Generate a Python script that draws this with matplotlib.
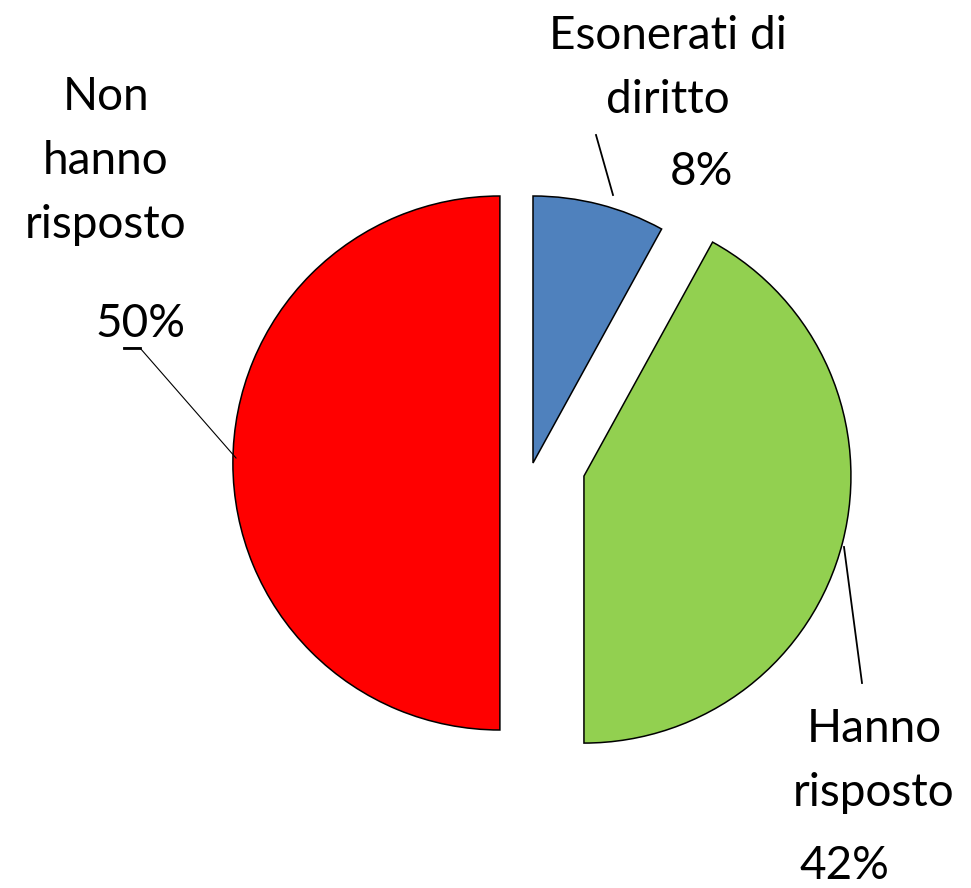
import matplotlib

matplotlib.use("Agg")
import matplotlib.pyplot as plt

W, H = 971, 888

# slices, clockwise from 12 o'clock
labels = [["Esonerati di", "diritto"], ["Hanno", "risposto"], ["Non", "hanno", "risposto"]]
shares = [8, 42, 50]
colors = ["#4F81BD", "#92D050", "#FF0000"]
explode = [0.0, 0.197, 0.124]  # fraction of radius

plt.rcParams["font.family"] = "Lato"

fig = plt.figure(figsize=(W / 100, H / 100), dpi=100)
ax = fig.add_axes([0, 0, 1, 1])

R = 267
# pie() offsets exploded wedges in data units, so scale by the radius
ax.pie(shares, explode=[e * R for e in explode], colors=colors, startangle=90,
       counterclock=False, center=(533, H - 463), radius=R,
       wedgeprops=dict(edgecolor="black", linewidth=1.1))
ax.set_xlim(0, W)
ax.set_ylim(0, H)
ax.set_aspect("equal")
ax.axis("off")


def y(px):
    # pixel row (from top) -> data y
    return H - px


FS = 33
LINE = 64
# label text: (x centre, first baseline) and percent position
label_pos = [(668, 49, 701, 185), (874, 742, 844, 879), (106, 110, 140, 337)]
for lines, v, (lx, ly, px, py) in zip(labels, shares, label_pos):
    for i, t in enumerate(lines):
        ax.text(lx, y(ly + i * LINE), t, ha="center", va="baseline", fontsize=FS)
    ax.text(px, y(py), f"{v}%", ha="center", va="baseline", fontsize=FS)

# leader lines
ax.plot([596, 613], [y(135), y(195)], color="black", lw=1.3)
ax.plot([844, 862], [y(547), y(683)], color="black", lw=1.3)
ax.plot([124, 140, 236], [y(348), y(348), y(458)], color="black", lw=0.8)
ax.plot([124, 140], [y(348), y(348)], color="black", lw=2.0)

fig.savefig("out.png", dpi=100)
